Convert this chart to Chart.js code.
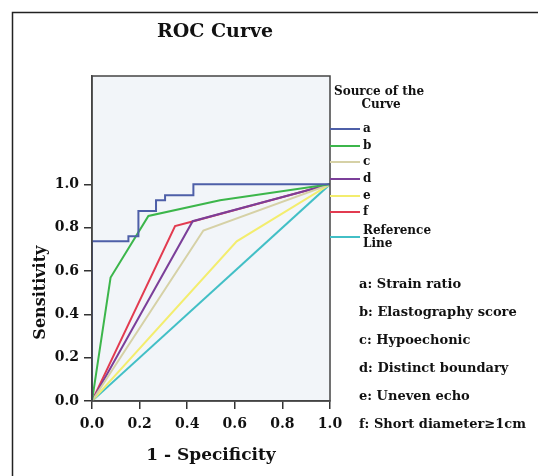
<!DOCTYPE html>
<html>
<head>
<meta charset="utf-8">
<script src="https://cdn.jsdelivr.net/npm/chart.js@4"></script>
<style>
  body { margin: 0; background: #fff; }
  canvas { display: block; }
</style>
</head>
<body>
<canvas id="roc" width="538" height="476"></canvas>
<script>
// axis ticks
const xTicks = [0, 0.2, 0.4, 0.6, 0.8, 1.0];
const yTicks = [0, 0.2, 0.4, 0.6, 0.8, 1.0];

// ROC curves (1 - specificity, sensitivity)
const fprA = [0, 0, 0.153, 0.153, 0.195, 0.195, 0.269, 0.269, 0.307, 0.307, 0.426, 0.426, 1];
const tprA = [0, 0.737, 0.737, 0.76, 0.76, 0.877, 0.877, 0.927, 0.927, 0.95, 0.95, 1, 1];
const fprB = [0, 0.078, 0.237, 0.538, 1];
const tprB = [0, 0.570, 0.854, 0.927, 1];
const fprC = [0, 0.468, 1];
const tprC = [0, 0.787, 1];
const fprD = [0, 0.423, 1];
const tprD = [0, 0.830, 1];
const fprE = [0, 0.608, 1];
const tprE = [0, 0.737, 1];
const fprF = [0, 0.349, 0.426, 1];
const tprF = [0, 0.807, 0.830, 1];
const fprRef = [0, 1];
const tprRef = [0, 1];

const curveKeys = ['a', 'b', 'c', 'd', 'e', 'f', 'Reference Line'];
const curveNames = ['Strain ratio', 'Elastography score', 'Hypoechonic', 'Distinct boundary', 'Uneven echo', 'Short diameter\u22651cm'];

const colors = ['#4e5fa8', '#3cb64b', '#d6d1a6', '#7b3f99', '#f3ed6e', '#e23b50', '#42bfc6'];

const FONT = "'DejaVu Serif', serif";

function toPoints(xs, ys) {
    return xs.map((x, i) => ({ x: x, y: ys[i] }));
}

const curves = [
    toPoints(fprA, tprA), toPoints(fprB, tprB), toPoints(fprC, tprC),
    toPoints(fprD, tprD), toPoints(fprE, tprE), toPoints(fprF, tprF),
    toPoints(fprRef, tprRef)
];

const decor = {
    id: 'decor',
    beforeDraw(chart) {
        const ctx = chart.ctx;
        const a = chart.chartArea;
        ctx.save();
        // outer frame
        ctx.strokeStyle = '#222';
        ctx.lineWidth = 1.5;
        ctx.beginPath();
        ctx.moveTo(12.5, 476);
        ctx.lineTo(12.5, 12.5);
        ctx.lineTo(538, 12.5);
        ctx.stroke();
        // plot background
        ctx.fillStyle = '#f2f5f9';
        ctx.fillRect(a.left, a.top, a.right - a.left, a.bottom - a.top);
        ctx.restore();
    },
    afterDraw(chart) {
        const ctx = chart.ctx;
        const a = chart.chartArea;
        const y = chart.scales.y;
        ctx.save();
        // plot box, drawn over the curves
        ctx.strokeStyle = '#444';
        ctx.lineWidth = 1.5;
        ctx.strokeRect(a.left, a.top, a.right - a.left, a.bottom - a.top);

        ctx.fillStyle = '#111';
        ctx.textAlign = 'center';
        ctx.textBaseline = 'middle';

        // chart title
        ctx.font = 'bold 19px ' + FONT;
        ctx.fillText('ROC Curve', 215, 32);

        // y axis title
        ctx.save();
        ctx.translate(41, y.getPixelForValue(0.5));
        ctx.rotate(-Math.PI / 2);
        ctx.font = 'bold 16px ' + FONT;
        ctx.fillText('Sensitivity', 0, 0);
        ctx.restore();

        // legend
        ctx.font = 'bold 12px ' + FONT;
        ctx.fillText('Source of the', 379, 92);
        ctx.fillText('Curve', 381, 105);
        ctx.textAlign = 'left';
        const rowY = [129, 146, 162, 179, 196, 212, 237];
        curveKeys.forEach((k, i) => {
            ctx.strokeStyle = colors[i];
            ctx.lineWidth = 2;
            ctx.beginPath();
            ctx.moveTo(a.right, rowY[i]);
            ctx.lineTo(a.right + 30, rowY[i]);
            ctx.stroke();
            if (k === 'Reference Line') {
                ctx.fillText('Reference', 363, 231);
                ctx.fillText('Line', 363, 244);
            } else {
                ctx.fillText(k, 363, rowY[i]);
            }
        });

        // notes
        ctx.font = 'bold 13px ' + FONT;
        curveNames.forEach((n, i) => {
            ctx.fillText(curveKeys[i] + ': ' + n, 359, 285 + i * 28);
        });
        ctx.restore();
    }
};

new Chart(document.getElementById('roc'), {
    type: 'line',
    data: {
        datasets: curves.map((pts, i) => ({
            label: curveKeys[i],
            data: pts,
            borderColor: colors[i],
            borderWidth: 2,
            pointRadius: 0,
            fill: false,
            tension: 0
        }))
    },
    options: {
        responsive: false,
        animation: false,
        layout: { padding: { left: 28, top: 76, right: 208, bottom: 0 } },
        plugins: { legend: { display: false }, tooltip: { enabled: false } },
        scales: {
            x: {
                type: 'linear',
                min: 0,
                max: 1,
                afterBuildTicks: s => { s.ticks = xTicks.map(v => ({ value: v })); },
                afterFit: s => { s.height = 75; },
                grid: { drawOnChartArea: false, tickLength: 8, color: '#333', lineWidth: 1.5 },
                border: { color: '#444', width: 1.5 },
                ticks: {
                    color: '#111',
                    padding: 7,
                    maxRotation: 0,
                    font: { family: FONT, size: 14, weight: 'bold' },
                    callback: v => v.toFixed(1)
                },
                title: {
                    display: true,
                    text: '1 - Specificity',
                    color: '#111',
                    padding: { top: 4, bottom: 10 },
                    font: { family: FONT, size: 17, weight: 'bold' }
                }
            },
            y: {
                type: 'linear',
                min: 0,
                max: 1.5,
                afterBuildTicks: s => { s.ticks = yTicks.map(v => ({ value: v })); },
                afterFit: s => { s.width = 64; },
                grid: { drawOnChartArea: false, tickLength: 8, color: '#333', lineWidth: 1.5 },
                border: { color: '#444', width: 1.5 },
                ticks: {
                    color: '#111',
                    padding: 5,
                    font: { family: FONT, size: 14, weight: 'bold' },
                    callback: v => v.toFixed(1)
                }
            }
        }
    },
    plugins: [decor]
});
</script>
</body>
</html>
